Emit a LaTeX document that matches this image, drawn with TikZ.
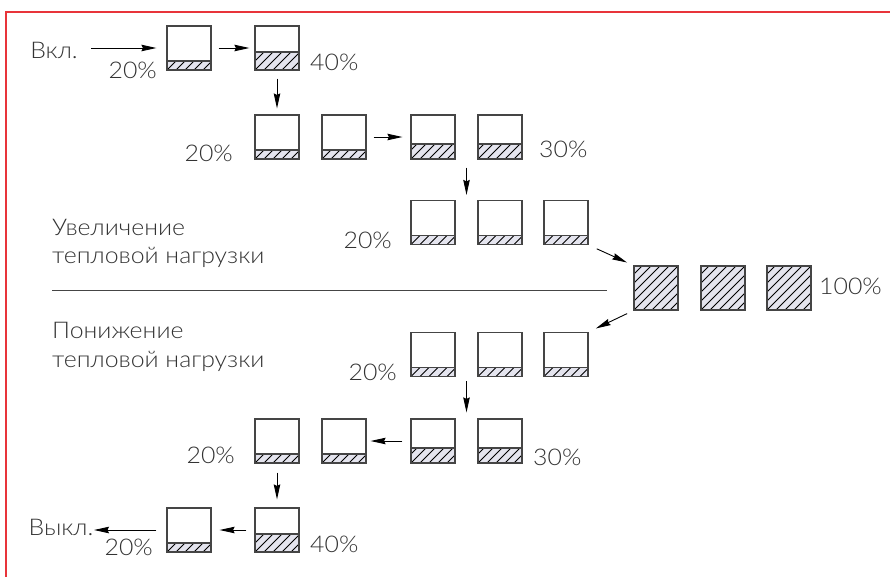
\documentclass[tikz,border=0pt]{standalone}
\usepackage{fontspec}
\setmainfont{Lato Light}[FakeStretch=1.08]
\usetikzlibrary{arrows.meta,calc}
\definecolor{boxc}{HTML}{454545}
\definecolor{hatchbg}{HTML}{E4E4EE}
\definecolor{txtc}{HTML}{333333}
\definecolor{frame}{HTML}{E8343A}
\newcommand\hatchlevel[1]{%
  \fill[hatchbg] (path picture bounding box.south west) rectangle ([yshift=#1]path picture bounding box.south east);
  \begin{scope}
    \clip (path picture bounding box.south west) rectangle ([yshift=#1]path picture bounding box.south east);
    \foreach \k in {-6,...,6} \draw[black,line width=0.8pt] ([xshift=\k*9pt]path picture bounding box.south west) -- ++(50pt,50pt);
  \end{scope}
  \draw[boxc,line width=1.1pt] ([yshift=#1]path picture bounding box.south west) -- ([yshift=#1]path picture bounding box.south east);
}
\tikzset{
  cell/.style={draw=boxc, line width=1.2pt, minimum width=44pt, minimum height=44pt, inner sep=0pt, fill=white, path picture={\hatchlevel{#1}}},
  arr/.style={-{Stealth[length=15pt,width=6.5pt,inset=1.5pt]}, line width=0.9pt, black},
  lbl/.style={text=txtc, font=\fontsize{23}{27}\selectfont, inner sep=0pt},
}
\begin{document}
\begin{tikzpicture}[x=1pt,y=-1pt]
\useasboundingbox (0,0) rectangle (890,576);
\draw[frame,line width=1.5pt] (6,580) -- (6,12) -- (895,12);

% cells
\node[cell=9pt]  (r1a) at (189,48) {};
\node[cell=18pt] (r1b) at (277,48) {};
\node[cell=9pt]  (r2a) at (277,137) {};
\node[cell=9pt]  (r2b) at (344,137) {};
\node[cell=15pt] (r2c) at (433,137) {};
\node[cell=15pt] (r2d) at (500,137) {};
\node[cell=9pt]  (r3a) at (433,222.5) {};
\node[cell=9pt]  (r3b) at (500,222.5) {};
\node[cell=9pt]  (r3c) at (566,222.5) {};
\node[cell=44pt] (f1) at (656,288) {};
\node[cell=44pt] (f2) at (723,288) {};
\node[cell=44pt] (f3) at (789,288) {};
\node[cell=9pt]  (r4a) at (433,354.5) {};
\node[cell=9pt]  (r4b) at (500,354.5) {};
\node[cell=9pt]  (r4c) at (566,354.5) {};
\node[cell=9pt]  (r5a) at (277,441) {};
\node[cell=9pt]  (r5b) at (344,441) {};
\node[cell=15pt] (r5c) at (433,441) {};
\node[cell=15pt] (r5d) at (500,441) {};
\node[cell=9pt]  (r6a) at (189,530) {};
\node[cell=18pt] (r6b) at (277,530) {};

% labels
\node[lbl,anchor=base] (on) at (54,58) {Вкл.};
\node[lbl,anchor=base] (off) at (61,535) {Выкл.};
\node[lbl,anchor=base east] (p1) at (157,78) {20\%};
\node[lbl,anchor=base west] (p2) at (310,70) {40\%};
\node[lbl,anchor=base east] (p3) at (233,161) {20\%};
\node[lbl,anchor=base west] (p4) at (539,157) {30\%};
\node[lbl,anchor=base east] (p5) at (392,248) {20\%};
\node[lbl,anchor=base west] (p6) at (819,294) {100\%};
\node[lbl,anchor=base east] (p7) at (397,380) {20\%};
\node[lbl,anchor=base east] (p8) at (235,463) {20\%};
\node[lbl,anchor=base west] (p9) at (533,465) {30\%};
\node[lbl,anchor=base east] (p10) at (153,555) {20\%};
\node[lbl,anchor=base west] (p11) at (310,552) {40\%};
\node[lbl,anchor=base west] (t1) at (52,235) {Увеличение};
\node[lbl,anchor=base west] (t2) at (52,263) {тепловой нагрузки};
\node[lbl,anchor=base west] (t3) at (52,338) {Понижение};
\node[lbl,anchor=base west] (t4) at (52,367) {тепловой нагрузки};

% separator
\draw[boxc,line width=1pt] (52,290) -- (607,290);

% free ends
\coordinate (inpt) at (91,48);
\coordinate (outpt) at (94,530);
\coordinate (m2) at ($(r2c.south)!0.5!(r2d.south)$);
\coordinate (m3) at ($(r3a.north)!0.5!(r3b.north)$);
\coordinate (m4) at ($(r4a.south)!0.5!(r4b.south)$);
\coordinate (m5) at ($(r5c.north)!0.5!(r5d.north)$);

% connectors
\draw[arr,shorten >=10pt] (inpt) -- (r1a.west);
\draw[arr,shorten <=7pt,shorten >=5pt] (r1a) -- (r1b);
\draw[arr,shorten <=8pt,shorten >=6pt] (r1b) -- (r2a);
\draw[arr,shorten <=7pt,shorten >=8pt] (r2b) -- (r2c);
\draw[arr,shorten <=8pt,shorten >=5pt] (m2) -- (m3);
\draw[arr,shorten <=9pt,shorten >=7pt] (r3c.south east) -- (f1.north west);
\draw[arr,shorten <=7pt,shorten >=8pt] (f1.south west) -- (r4c.north east);
\draw[arr,shorten <=4pt,shorten >=6pt] (m4) -- (m5);
\draw[arr,shorten <=8pt,shorten >=4pt] (r5c) -- (r5b);
\draw[arr,shorten <=9pt,shorten >=8pt] (r5a) -- (r6b);
\draw[arr,shorten <=8pt,shorten >=8pt] (r6b) -- (r6a);
\draw[arr,shorten <=10pt] (r6a.west) -- (outpt);
\end{tikzpicture}
\end{document}
